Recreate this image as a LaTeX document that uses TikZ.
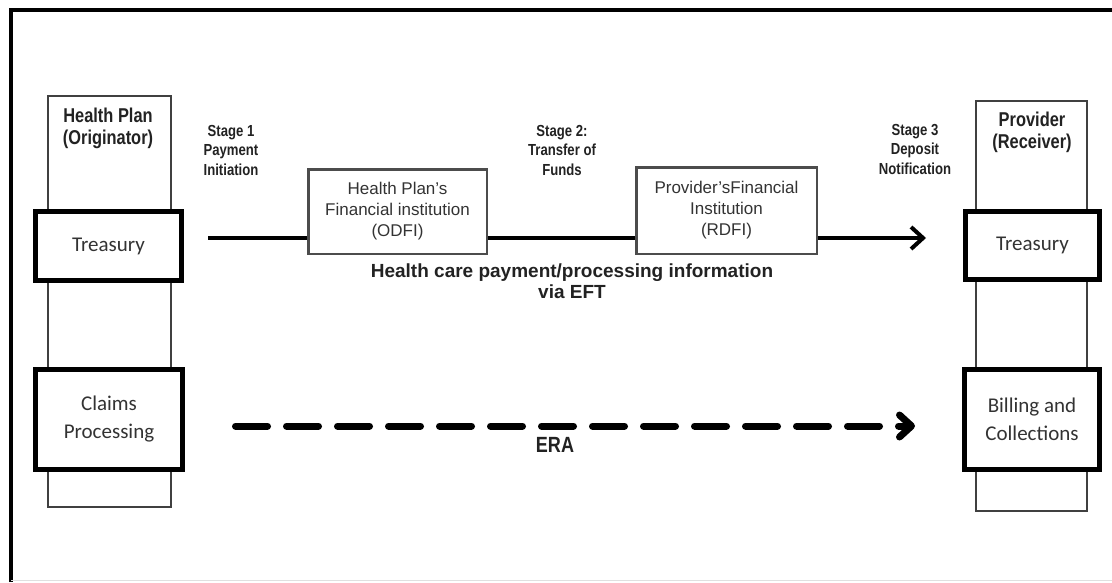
\documentclass[tikz,border=0pt]{standalone}
\usepackage{fontspec}
\setmainfont{Liberation Sans}
\newfontfamily\calfont{Carlito}
\newfontfamily\condb[FakeStretch=0.82]{Liberation Sans Bold}
\newfontfamily\plainb{Liberation Sans Bold}
\usetikzlibrary{arrows.meta}
\definecolor{ink}{HTML}{222222}
\definecolor{soft}{HTML}{333333}
\tikzset{
  column/.style={draw=black!75, line width=2pt, fill=white, inner sep=0pt},
  unit/.style={draw=black, line width=5pt, fill=white, inner sep=0pt, align=center,
    text=soft, font=\calfont\fontsize{21}{28}\selectfont},
  bank/.style={draw=black!70, line width=2.5pt, fill=white, inner sep=0pt, align=center,
    text=soft, font=\fontsize{17}{21}\selectfont},
  stagelbl/.style={inner sep=0pt, align=center, text=ink, font=\condb\fontsize{16}{19.5}\selectfont},
  partylbl/.style={inner sep=0pt, align=center, text=ink, font=\condb\fontsize{20}{22}\selectfont},
  flow/.style={line width=4pt, draw=black},
  eraflow/.style={line width=7pt, draw=black, line cap=round, dash pattern=on 32pt off 19pt},
}
\begin{document}
\begin{tikzpicture}[x=1pt, y=-1pt]
\useasboundingbox (0,0) rectangle (1112,582);
% frame
\draw[line width=4pt] (11,582) -- (11,10) -- (1112,10);
\draw[line width=1pt, black!12] (11,580.5) -- (1112,580.5);
% columns
\node[column, minimum width=123pt, minimum height=411pt] (colL) at (109.5,301.5) {};
\node[column, minimum width=111pt, minimum height=410pt] (colR) at (1031.5,306) {};
% party labels
\node[partylbl] (hp) at (108,128) {Health Plan\\(Originator)};
\node[partylbl] (pr) at (1032,132) {Provider\\(Receiver)};
% unit boxes
\node[unit, minimum width=146pt, minimum height=69pt] (tL) at (108.5,246) {Treasury};
\node[unit, minimum width=147pt, minimum height=100pt] (cL) at (109,419.5) {Claims\\Processing};
\node[unit, minimum width=134pt, minimum height=68pt] (tR) at (1032.5,245.5) {Treasury};
\node[unit, minimum width=135pt, minimum height=100pt] (bR) at (1032,419.5) {Billing and\\Collections};
% banks
\node[bank, minimum width=178.5pt, minimum height=84.5pt] (odfi) at (397.5,211.5) {Health Plan's\\Financial institution\\(ODFI)};
\node[bank, minimum width=180.5pt, minimum height=86.5pt] (rdfi) at (726.5,210.5) {Provider'sFinancial\\Institution\\(RDFI)};
% stage labels
\node[stagelbl] (st1) at (231,150) {Stage 1\\Payment\\Initiation};
\node[stagelbl] (st2) at (562,150) {Stage 2:\\Transfer of\\Funds};
\node[stagelbl] (st3) at (915,149) {Stage 3\\Deposit\\Notification};
% EFT flow
\coordinate (a0) at (208,238);
\coordinate (a1) at (926,238);
\draw[flow] (a0) -- (odfi.west |- a0);
\draw[flow] (odfi.east |- a0) -- (rdfi.west |- a0);
\draw[flow, -{Straight Barb[length=12pt, width=22pt]}] (rdfi.east |- a0) -- (a1);
\node[inner sep=0pt, align=center, text=ink, font=\plainb\fontsize{19}{21}\selectfont] (eft) at (572,281)
  {Health care payment/processing information\\via EFT};
% ERA flow
\coordinate (b0) at (235.5,426);
\coordinate (b1) at (915,426);
\draw[eraflow, -{Straight Barb[length=12pt, width=22pt, round]}] (b0) -- (b1);
\node[inner sep=0pt, text=ink, font=\condb\fontsize{22}{24}\selectfont] (era) at (555,445) {ERA};
\end{tikzpicture}
\end{document}
